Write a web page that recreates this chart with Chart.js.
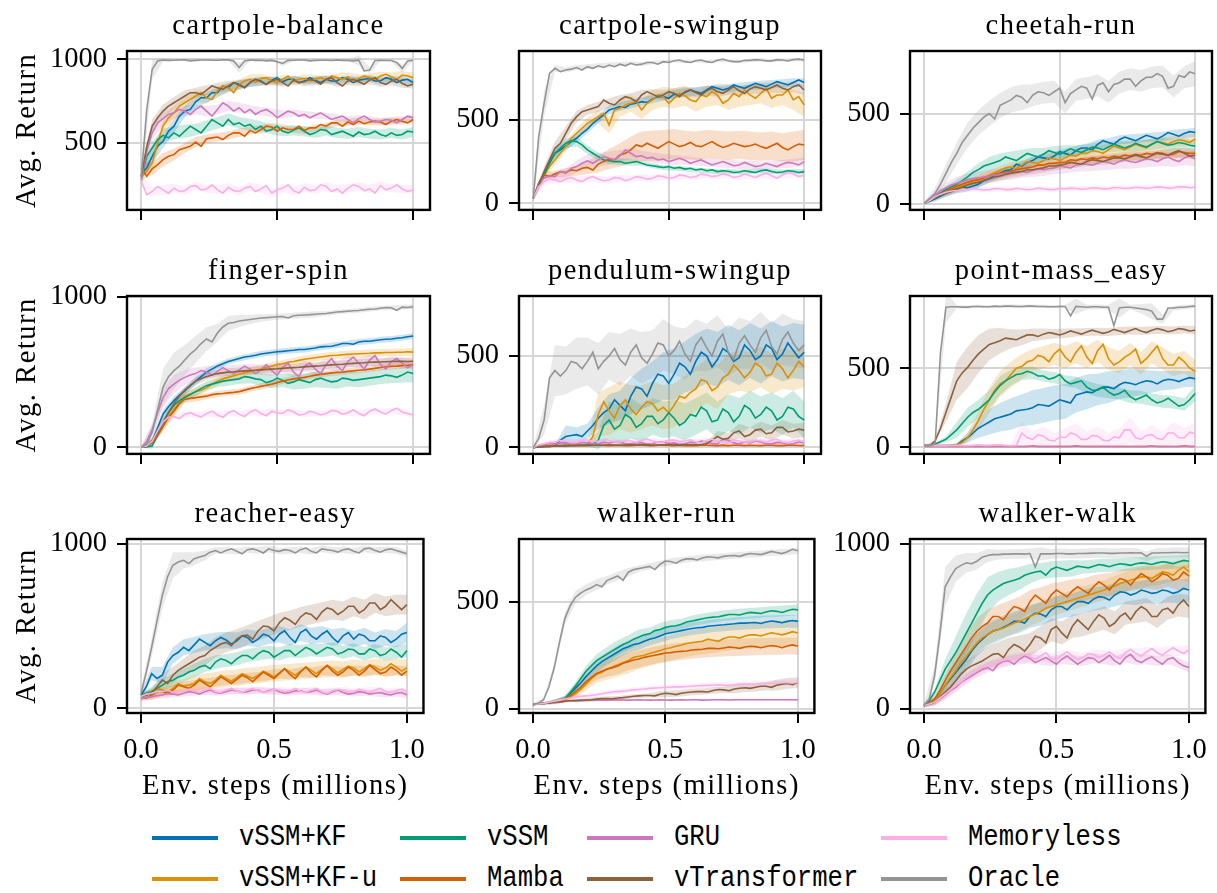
<!DOCTYPE html>
<html>
<head>
<meta charset="utf-8">
<script src="https://cdn.jsdelivr.net/npm/chart.js@4.4.1/dist/chart.umd.min.js"></script>
<style>
  html, body { margin: 0; padding: 0; background: #fff; }
  #fig { position: relative; width: 1217px; height: 893px; overflow: hidden; }
  #fig canvas { position: absolute; }
  .key { position: absolute; height: 4px; }
  .lbl { position: absolute; font-family: 'Liberation Mono', monospace; font-size: 25.6px; line-height: 26px; color: #000;
         white-space: nowrap; transform: scaleY(1.15); transform-origin: left center; }
</style>
</head>
<body>
<div id="fig"></div>
<script>
// env steps (millions): mean curves on the fine grid, shaded spread on the coarse one
const stepsFine = [0, 0.02, 0.04, 0.06, 0.08, 0.1, 0.12, 0.14, 0.16, 0.18, 0.2, 0.22, 0.24, 0.26, 0.28, 0.3, 0.32, 0.34, 0.36, 0.38, 0.4, 0.42, 0.44, 0.46, 0.48, 0.5, 0.52, 0.54, 0.56, 0.58, 0.6, 0.62, 0.64, 0.66, 0.68, 0.7, 0.72, 0.74, 0.76, 0.78, 0.8, 0.82, 0.84, 0.86, 0.88, 0.9, 0.92, 0.94, 0.96, 0.98, 1.0];
const steps = [0, 0.04, 0.08, 0.12, 0.16, 0.2, 0.24, 0.28, 0.32, 0.36, 0.4, 0.44, 0.48, 0.52, 0.56, 0.6, 0.64, 0.68, 0.72, 0.76, 0.8, 0.84, 0.88, 0.92, 0.96, 1.0];

const methods = ['vSSM+KF', 'vSSM+KF-u', 'vSSM', 'Mamba', 'GRU', 'vTransformer', 'Memoryless', 'Oracle'];
const colors = ['#0173b2', '#de8f05', '#029e73', '#d55e00', '#cc78bc', '#8c613c', '#fbafe4', '#949494'];

// cartpole-balance
const balance_kf = [320, 350, 420, 480, 510, 570, 600, 660, 690, 700, 745, 770, 770, 800, 800, 840, 830, 860, 850, 830, 860, 880, 870, 850, 875, 890, 865, 880, 880, 860, 870, 890, 875, 860, 880, 870, 870, 890, 880, 860, 875, 880, 885, 870, 870, 890, 880, 860, 875, 880, 860];
const balance_kfu = [300, 330, 380, 500, 600, 650, 680, 720, 740, 760, 780, 800, 770, 760, 810, 840, 830, 800, 850, 870, 880, 860, 885, 890, 870, 860, 880, 900, 870, 880, 885, 870, 880, 890, 875, 900, 890, 880, 895, 870, 885, 900, 890, 880, 900, 910, 895, 880, 905, 900, 890];
const balance_vssm = [300, 420, 470, 520, 545, 530, 560, 540, 570, 600, 580, 560, 600, 640, 620, 600, 640, 610, 620, 600, 610, 580, 600, 570, 580, 600, 570, 560, 575, 590, 570, 550, 560, 580, 575, 550, 560, 570, 555, 540, 565, 550, 555, 570, 550, 540, 560, 545, 550, 570, 565];
const balance_mamba = [350, 300, 345, 370, 400, 420, 430, 460, 470, 480, 505, 480, 525, 530, 535, 520, 545, 560, 560, 540, 575, 560, 580, 600, 595, 570, 590, 580, 580, 600, 575, 590, 590, 610, 600, 620, 620, 600, 625, 610, 630, 615, 625, 630, 625, 610, 630, 640, 630, 620, 640];
const balance_gru = [280, 450, 560, 620, 645, 670, 680, 700, 690, 670, 700, 720, 690, 660, 700, 740, 720, 690, 710, 680, 700, 670, 690, 700, 680, 650, 670, 690, 680, 660, 670, 650, 665, 680, 660, 640, 650, 660, 640, 620, 645, 660, 640, 625, 630, 640, 635, 620, 640, 660, 650];
const balance_vtrans = [300, 480, 600, 650, 690, 720, 740, 760, 780, 800, 800, 790, 815, 840, 830, 820, 840, 860, 845, 830, 860, 880, 865, 850, 870, 880, 860, 840, 875, 860, 865, 880, 870, 850, 880, 890, 860, 840, 870, 880, 865, 850, 875, 890, 860, 850, 870, 880, 855, 840, 850];
const balance_mem = [270, 190, 210, 240, 220, 200, 230, 210, 215, 240, 245, 220, 225, 250, 220, 200, 235, 215, 210, 230, 240, 210, 225, 245, 200, 220, 230, 250, 215, 200, 235, 215, 220, 250, 240, 210, 225, 200, 230, 250, 240, 215, 225, 200, 245, 220, 230, 250, 225, 210, 220];
const balance_oracle = [300, 700, 940, 990, 995, 993, 994, 995, 996, 990, 993, 995, 995, 994, 994, 996, 996, 990, 950, 990, 995, 993, 994, 990, 993, 985, 975, 993, 994, 995, 995, 990, 993, 994, 994, 992, 995, 993, 993, 990, 994, 930, 935, 992, 994, 992, 992, 980, 945, 990, 994];
const balance_kf_sd = [40, 40, 40, 40, 35, 35, 30, 30, 25, 25, 25, 25, 20, 20, 20, 20, 20, 20, 20, 20, 20, 20, 20, 20, 20, 20];
const balance_kfu_sd = [40, 40, 50, 40, 40, 35, 35, 30, 30, 30, 30, 25, 25, 25, 25, 25, 25, 25, 25, 25, 25, 25, 25, 25, 25, 30];
const balance_vssm_sd = [40, 40, 40, 40, 40, 35, 35, 35, 35, 35, 35, 30, 30, 30, 30, 30, 30, 30, 30, 30, 30, 30, 30, 30, 30, 30];
const balance_mamba_sd = [40, 40, 40, 35, 30, 30, 25, 25, 25, 25, 25, 25, 25, 20, 20, 20, 20, 20, 20, 20, 20, 20, 20, 20, 20, 20];
const balance_gru_sd = [40, 40, 40, 35, 30, 30, 30, 30, 30, 30, 25, 25, 25, 25, 20, 20, 20, 20, 20, 20, 20, 20, 20, 20, 20, 20];
const balance_vtrans_sd = [40, 40, 40, 35, 35, 30, 30, 30, 30, 30, 25, 25, 25, 25, 25, 25, 25, 25, 25, 25, 25, 25, 25, 25, 25, 25];
const balance_mem_sd = [30, 30, 30, 25, 25, 25, 25, 25, 25, 25, 25, 25, 25, 25, 25, 25, 25, 25, 25, 25, 25, 25, 25, 25, 25, 25];
const balance_oracle_sd = [40, 60, 10, 5, 5, 5, 5, 5, 5, 30, 5, 5, 5, 15, 5, 5, 5, 5, 5, 5, 30, 20, 5, 5, 25, 5];

// cartpole-swingup
const swingup_kf = [30, 120, 180, 250, 300, 320, 345, 370, 390, 420, 445, 480, 505, 530, 560, 570, 580, 575, 595, 600, 610, 605, 625, 640, 640, 630, 655, 650, 665, 680, 670, 660, 680, 700, 690, 680, 690, 710, 700, 690, 705, 720, 710, 700, 715, 730, 720, 710, 725, 740, 725];
const swingup_kfu = [30, 110, 170, 220, 260, 300, 340, 390, 420, 450, 480, 500, 520, 540, 470, 560, 570, 590, 600, 610, 560, 600, 620, 650, 640, 600, 630, 660, 645, 620, 610, 650, 640, 670, 650, 600, 620, 660, 640, 680, 650, 630, 660, 690, 630, 650, 650, 680, 620, 640, 590];
const swingup_vssm = [30, 110, 170, 240, 300, 330, 360, 375, 370, 350, 320, 300, 280, 260, 255, 250, 250, 240, 245, 250, 240, 230, 225, 220, 215, 220, 210, 215, 205, 210, 200, 205, 195, 200, 190, 195, 192, 185, 188, 195, 190, 185, 195, 200, 190, 185, 188, 195, 192, 185, 190];
const swingup_mamba = [30, 120, 170, 160, 175, 190, 185, 200, 195, 210, 215, 200, 235, 250, 265, 260, 290, 300, 320, 350, 340, 360, 345, 330, 350, 370, 355, 340, 350, 365, 345, 340, 355, 370, 350, 335, 345, 360, 350, 340, 345, 355, 340, 330, 345, 360, 335, 320, 340, 355, 350];
const swingup_gru = [30, 120, 150, 165, 160, 190, 180, 210, 220, 240, 255, 240, 260, 280, 270, 260, 285, 320, 300, 280, 285, 270, 275, 260, 265, 250, 260, 270, 258, 240, 250, 260, 245, 230, 240, 250, 238, 225, 230, 245, 232, 220, 225, 240, 230, 220, 235, 245, 240, 230, 250];
const swingup_vtrans = [30, 110, 190, 260, 330, 360, 420, 480, 520, 550, 560, 570, 580, 620, 600, 590, 620, 640, 630, 610, 650, 670, 655, 640, 650, 670, 660, 640, 670, 680, 665, 650, 675, 690, 670, 660, 680, 700, 675, 660, 685, 700, 690, 680, 695, 710, 690, 680, 700, 710, 680];
const swingup_mem = [30, 100, 130, 150, 140, 130, 145, 155, 140, 130, 150, 160, 145, 135, 140, 155, 150, 135, 145, 160, 155, 145, 150, 165, 160, 150, 155, 170, 165, 155, 160, 175, 170, 160, 165, 175, 170, 155, 160, 175, 165, 155, 170, 180, 165, 150, 170, 185, 175, 160, 170];
const swingup_oracle = [30, 400, 600, 780, 810, 790, 800, 805, 815, 800, 820, 810, 825, 815, 830, 820, 835, 825, 840, 830, 835, 845, 845, 835, 850, 845, 855, 860, 850, 845, 855, 860, 850, 845, 858, 865, 855, 850, 850, 858, 858, 862, 860, 855, 855, 862, 860, 855, 862, 865, 860];
const swingup_kf_sd = [10, 20, 25, 25, 25, 25, 25, 25, 25, 25, 25, 25, 25, 25, 25, 25, 25, 25, 25, 25, 25, 25, 25, 25, 25, 25];
const swingup_kfu_sd = [10, 20, 30, 30, 30, 35, 40, 50, 50, 50, 55, 60, 60, 60, 60, 60, 60, 60, 60, 60, 60, 60, 60, 60, 60, 70];
const swingup_vssm_sd = [10, 20, 30, 30, 30, 25, 25, 20, 20, 20, 15, 15, 15, 15, 15, 15, 15, 15, 15, 15, 15, 15, 15, 15, 15, 15];
const swingup_mamba_sd = [10, 20, 20, 25, 30, 40, 50, 60, 70, 80, 90, 90, 90, 90, 85, 85, 85, 85, 85, 85, 85, 85, 85, 85, 90, 90];
const swingup_gru_sd = [10, 20, 25, 30, 35, 40, 40, 40, 35, 35, 30, 30, 30, 30, 25, 25, 25, 25, 25, 25, 25, 25, 25, 25, 25, 25];
const swingup_vtrans_sd = [10, 30, 40, 40, 35, 30, 30, 30, 30, 30, 30, 30, 30, 30, 30, 30, 30, 30, 30, 30, 30, 30, 30, 30, 30, 30];
const swingup_mem_sd = [10, 20, 20, 20, 20, 20, 20, 20, 20, 20, 20, 20, 20, 20, 20, 20, 20, 20, 20, 20, 20, 20, 20, 20, 20, 20];
const swingup_oracle_sd = [10, 80, 20, 15, 15, 15, 15, 15, 12, 12, 12, 10, 10, 10, 10, 10, 10, 10, 10, 10, 10, 10, 10, 10, 10, 10];

// cheetah-run
const cheetah_kf = [5, 15, 30, 45, 60, 70, 80, 95, 90, 100, 110, 130, 140, 160, 170, 185, 190, 220, 210, 230, 240, 260, 255, 250, 265, 290, 280, 270, 295, 310, 310, 300, 330, 350, 340, 330, 355, 370, 360, 350, 365, 380, 370, 360, 375, 395, 385, 375, 390, 400, 395];
const cheetah_kfu = [5, 20, 40, 55, 70, 85, 90, 100, 110, 125, 130, 145, 160, 175, 185, 200, 205, 195, 215, 235, 230, 225, 240, 255, 250, 240, 255, 270, 265, 280, 280, 295, 290, 280, 300, 320, 310, 300, 315, 330, 320, 310, 330, 345, 340, 330, 345, 355, 350, 340, 360];
const cheetah_vssm = [5, 20, 40, 60, 80, 95, 110, 130, 150, 175, 190, 210, 220, 230, 240, 260, 250, 240, 260, 280, 270, 260, 275, 295, 285, 275, 290, 305, 295, 285, 300, 315, 310, 300, 315, 330, 320, 310, 320, 335, 325, 315, 330, 345, 335, 325, 330, 340, 335, 325, 320];
const cheetah_mamba = [5, 20, 40, 55, 70, 85, 100, 110, 120, 130, 135, 145, 155, 165, 170, 175, 180, 190, 195, 200, 205, 215, 215, 225, 225, 230, 230, 245, 240, 250, 245, 255, 250, 260, 255, 265, 260, 270, 265, 275, 270, 280, 275, 285, 280, 270, 275, 290, 285, 280, 280];
const cheetah_gru = [5, 30, 50, 75, 90, 105, 115, 125, 135, 140, 145, 150, 155, 160, 165, 170, 170, 180, 180, 175, 185, 195, 190, 195, 200, 210, 205, 200, 215, 220, 220, 215, 225, 235, 230, 220, 235, 245, 235, 230, 240, 250, 245, 235, 250, 260, 245, 235, 255, 265, 250];
const cheetah_vtrans = [5, 20, 35, 50, 60, 75, 85, 95, 105, 115, 120, 130, 140, 150, 155, 165, 170, 175, 180, 190, 190, 195, 200, 210, 210, 215, 220, 230, 225, 220, 235, 245, 240, 235, 245, 255, 255, 250, 260, 270, 262, 255, 268, 280, 275, 270, 285, 295, 280, 265, 270];
const cheetah_mem = [5, 20, 40, 55, 65, 72, 75, 78, 80, 85, 82, 78, 80, 86, 85, 80, 80, 87, 83, 79, 82, 88, 85, 80, 80, 86, 84, 88, 86, 82, 85, 90, 88, 84, 85, 91, 90, 86, 88, 93, 92, 87, 90, 95, 93, 88, 90, 96, 95, 90, 93];
const cheetah_oracle = [5, 30, 60, 110, 170, 230, 280, 340, 380, 420, 450, 480, 500, 470, 545, 560, 575, 600, 590, 560, 600, 620, 615, 600, 620, 640, 560, 610, 630, 650, 640, 580, 655, 670, 620, 660, 670, 690, 690, 650, 680, 700, 700, 720, 705, 640, 650, 710, 700, 730, 720];
const cheetah_kf_sd = [5, 15, 20, 20, 20, 20, 20, 25, 25, 25, 25, 25, 25, 25, 25, 25, 25, 25, 25, 25, 25, 25, 25, 25, 25, 25];
const cheetah_kfu_sd = [5, 15, 20, 20, 25, 25, 25, 25, 25, 25, 25, 30, 30, 30, 30, 30, 30, 30, 30, 30, 30, 30, 30, 30, 30, 30];
const cheetah_vssm_sd = [5, 15, 20, 25, 30, 35, 40, 40, 40, 40, 40, 35, 35, 35, 30, 30, 30, 30, 30, 30, 30, 30, 30, 30, 30, 30];
const cheetah_mamba_sd = [5, 15, 20, 20, 20, 20, 25, 25, 25, 25, 25, 25, 25, 25, 25, 25, 25, 25, 25, 25, 25, 25, 25, 25, 25, 25];
const cheetah_gru_sd = [5, 20, 30, 35, 35, 35, 35, 35, 35, 35, 35, 35, 35, 35, 35, 40, 40, 40, 40, 40, 40, 40, 40, 40, 40, 40];
const cheetah_vtrans_sd = [5, 15, 20, 20, 25, 25, 25, 25, 25, 25, 25, 25, 25, 25, 25, 25, 25, 25, 25, 25, 25, 25, 25, 25, 25, 25];
const cheetah_mem_sd = [5, 10, 15, 15, 15, 15, 15, 15, 15, 15, 15, 15, 15, 15, 15, 15, 15, 15, 15, 15, 15, 15, 15, 15, 15, 15];
const cheetah_oracle_sd = [10, 30, 50, 60, 70, 70, 70, 70, 70, 70, 60, 60, 60, 60, 60, 60, 60, 60, 60, 60, 60, 60, 60, 60, 60, 70];

// finger-spin
const finger_kf = [0, 10, 40, 130, 220, 270, 310, 345, 375, 410, 440, 470, 500, 520, 540, 555, 570, 580, 590, 600, 605, 612, 620, 625, 630, 635, 638, 642, 645, 650, 650, 655, 660, 668, 670, 672, 680, 690, 690, 685, 700, 705, 705, 710, 715, 718, 720, 725, 728, 735, 740];
const finger_kfu = [0, 8, 30, 80, 140, 200, 250, 300, 340, 355, 370, 380, 395, 420, 440, 455, 465, 475, 485, 495, 505, 512, 520, 530, 540, 550, 555, 565, 570, 578, 585, 590, 595, 600, 605, 610, 612, 615, 618, 620, 622, 624, 625, 628, 628, 630, 630, 632, 632, 635, 633];
const finger_vssm = [0, 3, 10, 80, 160, 230, 280, 310, 330, 350, 370, 390, 410, 420, 430, 440, 445, 450, 455, 470, 465, 455, 450, 430, 440, 460, 445, 425, 435, 450, 440, 430, 450, 460, 445, 435, 440, 460, 455, 445, 450, 455, 460, 465, 470, 480, 475, 465, 480, 500, 490];
const finger_mamba = [0, 8, 30, 80, 140, 200, 240, 290, 320, 325, 330, 335, 340, 350, 355, 358, 362, 365, 370, 380, 390, 398, 405, 412, 420, 430, 440, 448, 455, 460, 465, 472, 480, 485, 490, 495, 498, 500, 505, 508, 512, 515, 520, 525, 530, 535, 538, 540, 543, 545, 548];
const finger_gru = [0, 40, 120, 230, 330, 390, 420, 445, 465, 480, 490, 510, 500, 480, 505, 530, 510, 490, 515, 540, 520, 490, 515, 550, 510, 480, 530, 560, 500, 470, 540, 560, 520, 490, 550, 590, 540, 510, 570, 600, 560, 520, 580, 610, 550, 520, 570, 590, 560, 530, 550];
const finger_vtrans = [0, 10, 40, 100, 170, 230, 290, 340, 380, 410, 440, 455, 470, 480, 490, 495, 500, 502, 505, 508, 510, 512, 515, 518, 520, 522, 525, 528, 530, 532, 535, 538, 540, 542, 545, 548, 550, 552, 555, 558, 560, 562, 565, 566, 567, 569, 570, 571, 572, 570, 572];
const finger_mem = [0, 10, 40, 110, 170, 200, 205, 190, 220, 230, 215, 200, 225, 240, 215, 200, 230, 245, 220, 205, 235, 250, 225, 210, 240, 230, 225, 250, 235, 215, 220, 240, 230, 215, 225, 245, 240, 220, 230, 250, 225, 210, 240, 255, 235, 220, 245, 260, 235, 225, 215];
const finger_oracle = [0, 20, 100, 250, 400, 470, 510, 540, 580, 620, 650, 690, 720, 700, 760, 800, 825, 830, 840, 845, 850, 855, 860, 862, 865, 868, 870, 860, 875, 878, 880, 882, 885, 888, 890, 895, 900, 902, 905, 908, 910, 915, 918, 920, 925, 930, 928, 910, 932, 930, 935];
const finger_kf_sd = [5, 20, 30, 30, 25, 25, 25, 20, 20, 20, 20, 20, 20, 20, 20, 20, 20, 20, 20, 20, 20, 20, 20, 20, 20, 20];
const finger_kfu_sd = [5, 20, 30, 30, 25, 25, 25, 25, 25, 25, 25, 25, 25, 25, 25, 25, 25, 25, 25, 25, 25, 25, 25, 25, 25, 25];
const finger_vssm_sd = [5, 20, 30, 30, 30, 30, 30, 30, 35, 35, 40, 40, 45, 45, 50, 50, 50, 50, 50, 50, 50, 50, 50, 50, 50, 60];
const finger_mamba_sd = [5, 20, 30, 30, 25, 25, 20, 20, 20, 20, 20, 20, 20, 20, 20, 20, 20, 20, 20, 20, 20, 20, 20, 20, 20, 20];
const finger_gru_sd = [5, 30, 60, 60, 50, 40, 40, 35, 35, 35, 35, 35, 35, 35, 35, 35, 35, 35, 35, 35, 35, 35, 35, 35, 35, 35];
const finger_vtrans_sd = [5, 20, 30, 30, 25, 25, 25, 25, 25, 25, 25, 25, 25, 25, 25, 25, 25, 25, 25, 25, 25, 25, 25, 25, 25, 25];
const finger_mem_sd = [5, 20, 20, 20, 20, 20, 20, 20, 20, 20, 20, 20, 20, 20, 20, 20, 20, 20, 20, 20, 20, 20, 20, 20, 20, 20];
const finger_oracle_sd = [5, 60, 120, 120, 100, 90, 80, 60, 50, 40, 30, 25, 20, 20, 20, 20, 20, 15, 15, 15, 15, 15, 15, 15, 15, 15];

// pendulum-swingup
const pendulum_kf = [0, 3, 5, 8, 10, 40, 60, 65, 70, 60, 90, 120, 160, 190, 210, 260, 230, 200, 280, 330, 320, 280, 350, 400, 390, 350, 400, 460, 440, 400, 470, 520, 500, 440, 480, 540, 520, 470, 490, 560, 530, 480, 500, 560, 540, 480, 510, 570, 530, 490, 520];
const pendulum_kfu = [0, 3, 5, 6, 8, 9, 10, 11, 12, 14, 15, 60, 180, 250, 200, 160, 230, 260, 210, 180, 220, 250, 240, 200, 220, 190, 230, 280, 270, 300, 320, 370, 360, 310, 330, 380, 400, 450, 420, 380, 410, 460, 440, 390, 400, 460, 430, 380, 420, 470, 440];
const pendulum_vssm = [0, 3, 5, 6, 8, 9, 10, 11, 12, 14, 15, 20, 40, 120, 150, 100, 120, 180, 160, 110, 130, 170, 170, 130, 150, 190, 160, 120, 140, 180, 170, 220, 200, 140, 150, 210, 190, 140, 170, 230, 210, 160, 180, 220, 200, 150, 170, 220, 210, 170, 150];
const pendulum_mamba = [0, 5, 8, 9, 10, 10, 10, 11, 12, 11, 10, 12, 12, 11, 10, 11, 12, 10, 10, 12, 12, 11, 10, 12, 12, 11, 10, 12, 10, 11, 10, 12, 12, 11, 10, 13, 10, 12, 12, 10, 12, 11, 10, 12, 12, 10, 10, 13, 12, 11, 10];
const pendulum_gru = [0, 10, 15, 20, 20, 25, 25, 18, 20, 28, 25, 20, 20, 28, 25, 30, 30, 20, 20, 25, 25, 18, 20, 30, 30, 22, 25, 18, 20, 30, 25, 35, 30, 20, 20, 45, 40, 25, 20, 30, 25, 35, 30, 20, 20, 28, 25, 18, 20, 30, 25];
const pendulum_vtrans = [0, 3, 5, 6, 8, 9, 10, 10, 10, 11, 12, 12, 12, 13, 15, 14, 12, 14, 15, 13, 15, 16, 12, 14, 15, 16, 14, 13, 15, 16, 15, 16, 20, 40, 60, 45, 50, 80, 90, 60, 70, 95, 100, 75, 80, 110, 110, 85, 90, 100, 95];
const pendulum_mem = [0, 15, 20, 28, 30, 38, 35, 28, 30, 40, 40, 32, 35, 42, 40, 30, 30, 38, 35, 28, 40, 45, 35, 28, 30, 40, 40, 32, 35, 42, 30, 25, 40, 45, 35, 28, 25, 38, 35, 30, 30, 40, 35, 28, 40, 45, 30, 25, 35, 40, 30];
const pendulum_oracle = [0, 50, 150, 380, 420, 390, 420, 470, 460, 430, 470, 520, 430, 470, 500, 540, 480, 450, 520, 560, 490, 460, 510, 570, 560, 500, 530, 580, 510, 470, 560, 600, 545, 500, 580, 620, 520, 480, 570, 610, 560, 520, 600, 640, 550, 510, 590, 630, 570, 530, 560];
const pendulum_kf_sd = [5, 5, 5, 60, 40, 40, 60, 80, 80, 100, 110, 120, 130, 140, 140, 150, 150, 150, 150, 150, 150, 150, 150, 150, 150, 150];
const pendulum_kfu_sd = [5, 5, 5, 5, 5, 10, 120, 130, 130, 130, 120, 120, 120, 120, 120, 120, 120, 120, 110, 110, 110, 110, 110, 110, 110, 110];
const pendulum_vssm_sd = [5, 5, 5, 5, 5, 10, 50, 100, 110, 110, 100, 100, 100, 100, 100, 100, 100, 100, 100, 100, 100, 100, 100, 100, 100, 100];
const pendulum_mamba_sd = [3, 5, 5, 5, 5, 5, 5, 5, 5, 5, 5, 5, 5, 5, 5, 5, 5, 5, 5, 5, 5, 5, 5, 5, 5, 5];
const pendulum_gru_sd = [5, 10, 10, 10, 10, 10, 10, 10, 10, 10, 10, 10, 10, 10, 10, 10, 10, 15, 20, 15, 15, 15, 15, 15, 15, 15];
const pendulum_vtrans_sd = [3, 5, 5, 5, 5, 5, 5, 5, 5, 5, 5, 5, 5, 5, 5, 5, 10, 30, 30, 40, 40, 40, 40, 40, 40, 40];
const pendulum_mem_sd = [5, 10, 15, 15, 15, 15, 15, 15, 15, 15, 15, 15, 15, 15, 15, 15, 15, 15, 15, 15, 15, 15, 15, 15, 15, 15];
const pendulum_oracle_sd = [5, 80, 140, 130, 140, 130, 140, 130, 140, 130, 140, 130, 140, 130, 140, 140, 130, 140, 130, 140, 130, 140, 130, 140, 130, 130];

// point-mass easy
const pointmass_kf = [10, 10, 10, 10, 10, 12, 15, 40, 60, 90, 120, 140, 160, 180, 190, 200, 210, 230, 235, 240, 250, 270, 265, 260, 280, 300, 290, 280, 330, 340, 350, 345, 365, 380, 380, 370, 395, 410, 405, 395, 410, 420, 415, 400, 420, 430, 425, 415, 430, 440, 433];
const pointmass_kfu = [10, 10, 10, 10, 10, 12, 15, 30, 60, 110, 170, 240, 300, 360, 400, 420, 460, 500, 510, 540, 550, 580, 570, 540, 590, 620, 570, 540, 600, 640, 570, 530, 610, 650, 560, 520, 540, 570, 590, 620, 530, 560, 600, 640, 560, 520, 520, 570, 540, 500, 480];
const pointmass_vssm = [10, 12, 20, 35, 50, 80, 110, 150, 190, 220, 240, 270, 300, 350, 390, 420, 440, 460, 465, 480, 470, 450, 450, 430, 440, 460, 420, 400, 410, 420, 380, 360, 360, 380, 350, 330, 340, 360, 320, 300, 315, 330, 300, 280, 290, 310, 285, 260, 270, 300, 340];
const pointmass_mamba = [5, 5, 5, 5, 5, 5, 5, 5, 5, 5, 5, 5, 5, 5, 5, 5, 5, 5, 5, 5, 8, 5, 5, 5, 5, 5, 5, 5, 8, 5, 5, 5, 5, 5, 5, 5, 5, 5, 5, 5, 5, 5, 8, 5, 5, 5, 5, 5, 8, 5, 5];
const pointmass_gru = [5, 5, 5, 5, 5, 5, 5, 5, 5, 5, 5, 5, 5, 5, 5, 5, 5, 5, 5, 5, 5, 5, 5, 5, 5, 5, 5, 5, 5, 5, 5, 5, 5, 5, 5, 5, 5, 5, 5, 5, 5, 5, 5, 5, 5, 5, 5, 5, 5, 5, 5];
const pointmass_vtrans = [10, 10, 40, 120, 220, 320, 420, 470, 505, 550, 590, 620, 650, 660, 673, 690, 685, 680, 695, 710, 710, 700, 715, 725, 718, 710, 720, 735, 725, 715, 728, 740, 730, 720, 728, 745, 735, 725, 738, 750, 735, 725, 740, 750, 742, 730, 738, 750, 745, 735, 740];
const pointmass_mem = [10, 10, 10, 10, 10, 12, 12, 10, 10, 12, 15, 12, 12, 15, 15, 12, 10, 12, 90, 60, 50, 80, 70, 45, 40, 65, 60, 90, 80, 50, 50, 75, 70, 45, 40, 65, 60, 110, 110, 60, 50, 75, 80, 55, 50, 90, 90, 60, 60, 95, 85];
const pointmass_oracle = [10, 10, 20, 600, 885, 888, 888, 886, 886, 890, 890, 888, 888, 892, 890, 892, 892, 890, 890, 892, 892, 890, 890, 888, 888, 890, 890, 830, 890, 888, 885, 888, 888, 885, 885, 770, 880, 885, 885, 880, 875, 870, 860, 810, 810, 880, 880, 885, 885, 890, 892];
const pointmass_kf_sd = [5, 5, 5, 10, 30, 60, 80, 90, 100, 100, 110, 110, 110, 110, 110, 110, 100, 100, 90, 90, 80, 70, 60, 60, 50, 50];
const pointmass_kfu_sd = [5, 5, 5, 10, 30, 60, 80, 80, 80, 80, 70, 70, 70, 70, 70, 70, 70, 70, 70, 70, 70, 70, 70, 70, 70, 70];
const pointmass_vssm_sd = [5, 5, 20, 50, 60, 60, 60, 60, 50, 40, 40, 35, 35, 35, 35, 40, 40, 40, 40, 40, 40, 40, 40, 40, 40, 50];
const pointmass_mamba_sd = [3, 3, 3, 3, 3, 3, 3, 3, 3, 3, 3, 3, 3, 3, 3, 3, 3, 3, 3, 3, 3, 3, 3, 3, 3, 3];
const pointmass_gru_sd = [3, 3, 3, 3, 3, 3, 3, 3, 3, 3, 3, 3, 3, 3, 3, 3, 3, 3, 3, 3, 3, 3, 3, 3, 3, 3];
const pointmass_vtrans_sd = [5, 5, 60, 120, 130, 120, 100, 80, 60, 50, 40, 35, 30, 30, 25, 25, 25, 25, 25, 25, 25, 25, 25, 25, 25, 25];
const pointmass_mem_sd = [5, 5, 5, 5, 5, 5, 5, 5, 5, 70, 50, 60, 50, 60, 70, 50, 60, 50, 60, 80, 50, 60, 50, 70, 60, 70];
const pointmass_oracle_sd = [5, 5, 100, 10, 10, 10, 10, 10, 10, 10, 10, 10, 10, 10, 50, 15, 15, 15, 60, 15, 30, 50, 30, 15, 15, 10];

// reacher-easy
const reacher_kf = [80, 130, 210, 180, 200, 280, 320, 340, 370, 350, 385, 420, 400, 380, 410, 430, 415, 390, 410, 440, 430, 400, 420, 450, 440, 410, 450, 470, 430, 400, 460, 480, 440, 420, 450, 470, 430, 400, 440, 460, 420, 450, 440, 410, 410, 440, 430, 400, 420, 450, 460];
const reacher_kfu = [70, 80, 90, 120, 110, 100, 120, 150, 135, 140, 150, 180, 160, 150, 170, 200, 180, 165, 185, 210, 195, 180, 200, 225, 210, 190, 215, 240, 220, 200, 225, 250, 230, 210, 235, 260, 240, 215, 235, 255, 245, 220, 240, 265, 250, 230, 245, 270, 250, 225, 245];
const reacher_vssm = [80, 90, 100, 120, 140, 160, 170, 190, 200, 220, 230, 250, 260, 240, 280, 300, 290, 270, 300, 320, 320, 300, 330, 350, 340, 310, 330, 350, 350, 320, 345, 370, 355, 330, 350, 370, 360, 330, 340, 360, 355, 330, 330, 360, 350, 320, 330, 360, 340, 310, 350];
const reacher_mamba = [70, 60, 80, 100, 100, 90, 110, 140, 130, 120, 140, 170, 150, 130, 160, 190, 170, 150, 175, 200, 185, 160, 190, 220, 200, 180, 210, 240, 205, 180, 220, 250, 215, 190, 230, 260, 225, 200, 220, 250, 230, 200, 225, 260, 235, 210, 220, 250, 230, 200, 225];
const reacher_gru = [60, 65, 70, 75, 80, 90, 85, 80, 90, 100, 95, 85, 100, 110, 95, 90, 100, 110, 105, 95, 100, 110, 110, 95, 105, 115, 100, 90, 95, 105, 105, 95, 100, 110, 95, 85, 100, 110, 95, 85, 90, 100, 95, 85, 90, 95, 85, 80, 90, 95, 80];
const reacher_vtrans = [70, 80, 90, 130, 170, 150, 200, 230, 250, 270, 290, 310, 320, 350, 370, 390, 400, 380, 420, 440, 445, 420, 470, 500, 495, 470, 520, 550, 535, 510, 555, 580, 570, 540, 585, 610, 600, 570, 590, 620, 620, 580, 600, 640, 640, 600, 620, 660, 630, 600, 630];
const reacher_mem = [70, 85, 90, 100, 100, 110, 95, 100, 100, 115, 105, 95, 110, 120, 100, 95, 110, 120, 105, 95, 110, 120, 105, 95, 100, 115, 110, 100, 105, 120, 100, 95, 110, 120, 100, 90, 105, 115, 110, 100, 100, 115, 105, 95, 110, 120, 100, 95, 105, 115, 100];
const reacher_oracle = [90, 220, 370, 530, 685, 800, 870, 890, 900, 880, 910, 920, 930, 950, 960, 945, 960, 970, 955, 940, 965, 970, 960, 945, 970, 960, 955, 965, 960, 945, 965, 975, 955, 945, 970, 965, 960, 950, 965, 970, 955, 945, 970, 975, 960, 950, 965, 970, 960, 950, 940];
const reacher_kf_sd = [20, 40, 50, 50, 50, 50, 50, 50, 50, 50, 50, 50, 50, 50, 50, 50, 50, 50, 50, 50, 50, 50, 50, 50, 50, 60];
const reacher_kfu_sd = [20, 30, 30, 40, 40, 50, 50, 50, 50, 50, 50, 50, 50, 50, 50, 50, 50, 50, 50, 50, 50, 50, 50, 50, 50, 50];
const reacher_vssm_sd = [20, 30, 40, 40, 40, 40, 40, 40, 40, 40, 40, 40, 40, 40, 40, 40, 40, 40, 40, 40, 40, 40, 40, 40, 40, 40];
const reacher_mamba_sd = [20, 30, 30, 30, 30, 30, 30, 30, 30, 30, 30, 30, 30, 30, 30, 30, 30, 30, 30, 30, 30, 30, 30, 30, 30, 30];
const reacher_gru_sd = [20, 20, 20, 20, 20, 20, 20, 20, 20, 20, 20, 20, 20, 20, 20, 20, 20, 20, 20, 20, 20, 20, 20, 20, 20, 20];
const reacher_vtrans_sd = [20, 30, 40, 50, 50, 60, 60, 60, 60, 60, 60, 60, 60, 60, 60, 60, 60, 60, 60, 60, 60, 60, 60, 60, 60, 60];
const reacher_mem_sd = [20, 20, 20, 20, 20, 20, 20, 20, 20, 20, 20, 20, 20, 20, 20, 20, 20, 20, 20, 20, 20, 20, 20, 20, 20, 20];
const reacher_oracle_sd = [20, 60, 80, 80, 50, 40, 30, 20, 20, 20, 20, 20, 20, 20, 20, 20, 20, 20, 20, 20, 20, 20, 20, 20, 20, 20];

// walker-run
const walkerRun_kf = [20, 22, 25, 28, 32, 38, 45, 70, 95, 120, 150, 175, 200, 220, 235, 250, 265, 280, 290, 300, 305, 315, 325, 330, 340, 350, 355, 360, 365, 370, 375, 378, 380, 385, 388, 390, 392, 395, 397, 400, 400, 402, 403, 398, 405, 410, 407, 402, 408, 412, 408];
const walkerRun_kfu = [20, 22, 25, 28, 30, 35, 40, 55, 70, 90, 115, 140, 160, 170, 185, 195, 205, 215, 225, 240, 245, 250, 258, 265, 272, 280, 285, 292, 298, 305, 308, 312, 315, 325, 320, 315, 328, 335, 335, 330, 340, 345, 345, 340, 348, 355, 350, 345, 352, 360, 354];
const walkerRun_vssm = [20, 22, 25, 28, 32, 38, 45, 75, 105, 140, 175, 200, 225, 240, 255, 270, 285, 300, 310, 325, 335, 345, 350, 365, 370, 380, 385, 388, 395, 405, 410, 415, 420, 425, 428, 430, 435, 440, 440, 438, 445, 450, 448, 445, 452, 458, 455, 450, 458, 465, 462];
const walkerRun_mamba = [20, 22, 25, 28, 32, 38, 45, 60, 80, 100, 125, 145, 165, 175, 185, 192, 200, 212, 220, 228, 232, 240, 245, 250, 255, 260, 262, 266, 268, 270, 274, 276, 278, 282, 282, 280, 284, 288, 286, 282, 288, 292, 290, 285, 291, 295, 292, 285, 293, 298, 292];
const walkerRun_gru = [20, 22, 25, 28, 30, 32, 35, 37, 38, 39, 40, 40, 40, 40, 40, 41, 42, 41, 40, 41, 42, 41, 40, 41, 42, 41, 40, 41, 42, 41, 42, 42, 40, 41, 42, 42, 42, 41, 42, 42, 42, 42, 42, 42, 42, 42, 42, 42, 42, 42, 42];
const walkerRun_vtrans = [20, 22, 25, 27, 30, 32, 35, 37, 38, 39, 40, 42, 45, 47, 48, 46, 50, 52, 55, 58, 60, 62, 62, 60, 68, 72, 70, 66, 72, 76, 78, 80, 80, 78, 85, 90, 88, 84, 92, 96, 98, 95, 100, 105, 105, 100, 110, 115, 118, 112, 122];
const walkerRun_mem = [20, 22, 25, 30, 35, 40, 45, 50, 55, 58, 60, 62, 65, 70, 75, 78, 80, 82, 85, 88, 90, 92, 95, 97, 98, 100, 100, 102, 102, 104, 105, 107, 108, 109, 110, 112, 110, 110, 112, 115, 115, 114, 115, 118, 118, 117, 120, 122, 122, 120, 123];
const walkerRun_oracle = [20, 25, 42, 100, 190, 310, 420, 480, 520, 540, 555, 565, 580, 570, 600, 610, 620, 600, 638, 650, 655, 660, 665, 650, 675, 690, 688, 680, 694, 700, 700, 695, 704, 710, 708, 705, 712, 715, 716, 712, 720, 725, 723, 720, 727, 735, 730, 725, 733, 745, 738];
const walkerRun_kf_sd = [5, 5, 10, 15, 20, 25, 30, 30, 30, 30, 30, 30, 30, 30, 30, 30, 30, 30, 30, 30, 30, 30, 30, 30, 30, 30];
const walkerRun_kfu_sd = [5, 5, 10, 15, 20, 30, 40, 50, 55, 60, 60, 60, 60, 60, 60, 60, 60, 60, 60, 60, 60, 60, 60, 60, 60, 60];
const walkerRun_vssm_sd = [5, 5, 10, 15, 20, 25, 30, 35, 35, 35, 35, 30, 30, 30, 25, 25, 25, 25, 25, 25, 25, 25, 25, 25, 25, 25];
const walkerRun_mamba_sd = [5, 5, 10, 15, 20, 25, 30, 35, 40, 40, 40, 40, 40, 40, 40, 40, 40, 40, 40, 40, 40, 40, 40, 40, 40, 40];
const walkerRun_gru_sd = [3, 5, 5, 5, 5, 5, 5, 5, 5, 5, 5, 5, 5, 5, 5, 5, 5, 5, 5, 5, 5, 5, 5, 5, 5, 5];
const walkerRun_vtrans_sd = [3, 5, 5, 5, 5, 10, 10, 10, 10, 10, 10, 10, 15, 15, 15, 15, 15, 15, 15, 20, 20, 20, 20, 25, 25, 25];
const walkerRun_mem_sd = [5, 5, 8, 10, 10, 10, 10, 12, 12, 12, 12, 12, 12, 12, 12, 12, 12, 12, 12, 12, 12, 12, 12, 12, 12, 12];
const walkerRun_oracle_sd = [5, 10, 20, 30, 30, 25, 25, 20, 20, 20, 15, 15, 15, 15, 15, 15, 15, 15, 15, 15, 15, 15, 15, 15, 15, 15];

// walker-walk
const walkerWalk_kf = [20, 30, 50, 90, 140, 180, 220, 260, 300, 350, 390, 420, 450, 470, 480, 495, 510, 530, 530, 520, 560, 580, 575, 560, 600, 620, 620, 600, 630, 650, 650, 640, 665, 680, 675, 660, 690, 710, 705, 690, 700, 720, 712, 700, 705, 720, 715, 700, 710, 730, 720];
const walkerWalk_kfu = [20, 30, 50, 90, 140, 190, 230, 280, 320, 360, 400, 430, 450, 470, 480, 490, 505, 520, 530, 545, 560, 575, 590, 610, 620, 630, 640, 650, 660, 670, 680, 690, 700, 710, 720, 735, 745, 760, 770, 780, 790, 800, 800, 790, 810, 830, 825, 810, 840, 860, 830];
const walkerWalk_vssm = [20, 50, 100, 170, 240, 290, 340, 400, 460, 520, 580, 640, 690, 720, 740, 760, 770, 780, 790, 810, 820, 830, 835, 810, 845, 860, 850, 840, 852, 865, 860, 855, 865, 875, 870, 862, 872, 880, 876, 870, 880, 885, 882, 875, 885, 892, 888, 880, 890, 900, 895];
const walkerWalk_mamba = [20, 35, 60, 110, 170, 230, 280, 330, 380, 430, 470, 500, 520, 560, 560, 540, 585, 620, 610, 590, 650, 690, 665, 640, 690, 720, 700, 680, 715, 740, 720, 700, 740, 770, 750, 720, 760, 790, 780, 750, 790, 820, 800, 770, 790, 820, 810, 780, 790, 830, 805];
const walkerWalk_gru = [20, 28, 40, 60, 85, 110, 130, 160, 180, 200, 220, 240, 250, 230, 270, 290, 290, 270, 300, 320, 305, 280, 295, 310, 290, 270, 300, 320, 295, 270, 290, 310, 305, 280, 300, 325, 290, 270, 310, 330, 295, 280, 300, 315, 290, 270, 300, 310, 280, 260, 250];
const walkerWalk_vtrans = [20, 28, 40, 70, 100, 130, 170, 210, 240, 260, 275, 290, 310, 330, 335, 310, 360, 390, 375, 350, 390, 440, 430, 400, 480, 500, 460, 430, 500, 540, 510, 480, 530, 570, 550, 500, 520, 560, 580, 540, 590, 620, 600, 560, 560, 600, 610, 580, 630, 660, 620];
const walkerWalk_mem = [20, 28, 40, 65, 90, 115, 140, 165, 190, 210, 230, 250, 260, 270, 280, 295, 300, 290, 310, 330, 315, 300, 320, 340, 305, 300, 325, 345, 320, 300, 310, 335, 330, 310, 325, 345, 320, 305, 340, 360, 335, 320, 345, 365, 340, 325, 350, 370, 350, 335, 358];
const walkerWalk_oracle = [20, 60, 200, 450, 740, 800, 850, 870, 885, 880, 895, 920, 930, 935, 935, 938, 938, 940, 940, 938, 942, 860, 940, 940, 940, 942, 942, 940, 940, 942, 942, 943, 944, 945, 945, 943, 943, 945, 945, 946, 945, 946, 925, 945, 945, 947, 947, 948, 948, 947, 948];
const walkerWalk_kf_sd = [10, 20, 40, 60, 70, 70, 70, 70, 70, 70, 70, 70, 70, 70, 70, 70, 70, 70, 70, 70, 70, 70, 70, 70, 70, 70];
const walkerWalk_kfu_sd = [10, 20, 40, 60, 60, 60, 60, 60, 60, 60, 60, 60, 60, 60, 60, 60, 60, 60, 60, 60, 60, 60, 60, 60, 60, 60];
const walkerWalk_vssm_sd = [10, 20, 60, 100, 120, 120, 110, 90, 80, 70, 60, 50, 50, 50, 50, 40, 40, 40, 40, 40, 40, 40, 40, 40, 40, 40];
const walkerWalk_mamba_sd = [10, 20, 40, 60, 80, 80, 80, 70, 70, 70, 70, 70, 70, 70, 70, 70, 70, 70, 70, 70, 70, 70, 70, 70, 70, 70];
const walkerWalk_gru_sd = [10, 20, 30, 30, 30, 30, 30, 30, 30, 30, 30, 30, 30, 30, 30, 30, 30, 30, 30, 30, 30, 30, 30, 30, 30, 30];
const walkerWalk_vtrans_sd = [10, 20, 30, 40, 50, 60, 70, 70, 70, 70, 70, 70, 70, 70, 70, 70, 70, 70, 70, 70, 70, 70, 70, 70, 70, 70];
const walkerWalk_mem_sd = [10, 20, 30, 30, 30, 30, 30, 30, 30, 30, 30, 30, 30, 30, 30, 30, 30, 30, 30, 30, 30, 30, 30, 30, 30, 30];
const walkerWalk_oracle_sd = [10, 60, 120, 80, 60, 50, 40, 30, 30, 30, 30, 40, 30, 30, 30, 30, 30, 30, 30, 30, 30, 30, 30, 30, 30, 30];

// tick labels
const ticksBalance = [500, 1000];
const ticksHalf = [0, 500];
const ticksThousand = [0, 1000];
const xTicks = [0, 0.5, 1.0];

const panels = [
  { title: 'cartpole-balance', y: [100, 1049], yTicks: ticksBalance,
    mean: [balance_kf, balance_kfu, balance_vssm, balance_mamba, balance_gru, balance_vtrans, balance_mem, balance_oracle],
    sd: [balance_kf_sd, balance_kfu_sd, balance_vssm_sd, balance_mamba_sd, balance_gru_sd, balance_vtrans_sd, balance_mem_sd, balance_oracle_sd] },
  { title: 'cartpole-swingup', y: [-40, 914], yTicks: ticksHalf,
    mean: [swingup_kf, swingup_kfu, swingup_vssm, swingup_mamba, swingup_gru, swingup_vtrans, swingup_mem, swingup_oracle],
    sd: [swingup_kf_sd, swingup_kfu_sd, swingup_vssm_sd, swingup_mamba_sd, swingup_gru_sd, swingup_vtrans_sd, swingup_mem_sd, swingup_oracle_sd] },
  { title: 'cheetah-run', y: [-32, 845], yTicks: ticksHalf,
    mean: [cheetah_kf, cheetah_kfu, cheetah_vssm, cheetah_mamba, cheetah_gru, cheetah_vtrans, cheetah_mem, cheetah_oracle],
    sd: [cheetah_kf_sd, cheetah_kfu_sd, cheetah_vssm_sd, cheetah_mamba_sd, cheetah_gru_sd, cheetah_vtrans_sd, cheetah_mem_sd, cheetah_oracle_sd] },
  { title: 'finger-spin', y: [-44, 1006], yTicks: ticksThousand,
    mean: [finger_kf, finger_kfu, finger_vssm, finger_mamba, finger_gru, finger_vtrans, finger_mem, finger_oracle],
    sd: [finger_kf_sd, finger_kfu_sd, finger_vssm_sd, finger_mamba_sd, finger_gru_sd, finger_vtrans_sd, finger_mem_sd, finger_oracle_sd] },
  { title: 'pendulum-swingup', y: [-35, 827], yTicks: ticksHalf,
    mean: [pendulum_kf, pendulum_kfu, pendulum_vssm, pendulum_mamba, pendulum_gru, pendulum_vtrans, pendulum_mem, pendulum_oracle],
    sd: [pendulum_kf_sd, pendulum_kfu_sd, pendulum_vssm_sd, pendulum_mamba_sd, pendulum_gru_sd, pendulum_vtrans_sd, pendulum_mem_sd, pendulum_oracle_sd] },
  { title: 'point-mass_easy', y: [-42, 956], yTicks: ticksHalf,
    mean: [pointmass_kf, pointmass_kfu, pointmass_vssm, pointmass_mamba, pointmass_gru, pointmass_vtrans, pointmass_mem, pointmass_oracle],
    sd: [pointmass_kf_sd, pointmass_kfu_sd, pointmass_vssm_sd, pointmass_mamba_sd, pointmass_gru_sd, pointmass_vtrans_sd, pointmass_mem_sd, pointmass_oracle_sd] },
  { title: 'reacher-easy', y: [-30, 1030], yTicks: ticksThousand,
    mean: [reacher_kf, reacher_kfu, reacher_vssm, reacher_mamba, reacher_gru, reacher_vtrans, reacher_mem, reacher_oracle],
    sd: [reacher_kf_sd, reacher_kfu_sd, reacher_vssm_sd, reacher_mamba_sd, reacher_gru_sd, reacher_vtrans_sd, reacher_mem_sd, reacher_oracle_sd] },
  { title: 'walker-run', y: [-20, 793], yTicks: ticksHalf,
    mean: [walkerRun_kf, walkerRun_kfu, walkerRun_vssm, walkerRun_mamba, walkerRun_gru, walkerRun_vtrans, walkerRun_mem, walkerRun_oracle],
    sd: [walkerRun_kf_sd, walkerRun_kfu_sd, walkerRun_vssm_sd, walkerRun_mamba_sd, walkerRun_gru_sd, walkerRun_vtrans_sd, walkerRun_mem_sd, walkerRun_oracle_sd] },
  { title: 'walker-walk', y: [-26, 1030], yTicks: ticksThousand,
    mean: [walkerWalk_kf, walkerWalk_kfu, walkerWalk_vssm, walkerWalk_mamba, walkerWalk_gru, walkerWalk_vtrans, walkerWalk_mem, walkerWalk_oracle],
    sd: [walkerWalk_kf_sd, walkerWalk_kfu_sd, walkerWalk_vssm_sd, walkerWalk_mamba_sd, walkerWalk_gru_sd, walkerWalk_vtrans_sd, walkerWalk_mem_sd, walkerWalk_oracle_sd] }
];

// plot boxes of the 3x3 grid
const colLeft = [127, 519, 910], colRight = [430, 821, 1212];
const rowTop = [51, 296, 539], rowBottom = [225, 469, 713];

const serif = "'Liberation Serif', 'Times New Roman', serif";
const FS = 28.5;
const gridColor = '#d6d6d6';

function rgba(hex, a) {
  const n = parseInt(hex.slice(1), 16);
  return `rgba(${n >> 16}, ${(n >> 8) & 255}, ${n & 255}, ${a})`;
}

// black box around the axes, panel title and axis titles
const frame = {
  id: 'frame',
  afterDraw(chart, args, opts) {
    const { ctx, chartArea: a } = chart;
    ctx.save();
    ctx.strokeStyle = '#000';
    ctx.lineWidth = 2.4;
    ctx.strokeRect(a.left, a.top, a.right - a.left, a.bottom - a.top);
    ctx.fillStyle = '#000';
    ctx.font = `${FS}px ${serif}`;
    ctx.letterSpacing = '1.5px';
    ctx.textAlign = 'center';
    ctx.textBaseline = 'alphabetic';
    ctx.fillText(opts.text, (a.left + a.right) / 2, a.top - 17);
    ctx.textBaseline = 'middle';
    if (opts.xTitle) ctx.fillText(opts.xTitle, (a.left + a.right) / 2, a.bottom + 74);
    if (opts.yTitle) {
      ctx.translate(a.left - 99, (a.top + a.bottom) / 2);
      ctx.rotate(-Math.PI / 2);
      ctx.fillText(opts.yTitle, 0, 0);
    }
    ctx.restore();
  }
};

const fig = document.getElementById('fig');

panels.forEach((p, k) => {
  const row = Math.floor(k / 3), col = k % 3;
  const L = colLeft[col], R = colRight[col], T = rowTop[row], B = rowBottom[row];
  const bottomRow = row === 2;
  const axisH = bottomRow ? 100 : 12;

  const cv = document.createElement('canvas');
  cv.width = R - L + 125;
  cv.height = B - T + 45 + axisH;
  cv.style.left = (L - 120) + 'px';
  cv.style.top = (T - 45) + 'px';
  fig.appendChild(cv);

  const datasets = [];
  p.mean.forEach((m, i) => {
    const sd = p.sd[i];
    const mAt = j => m[2 * j];
    datasets.push({ data: steps.map((x, j) => ({ x, y: mAt(j) + sd[j] })), fill: '+1',
      backgroundColor: rgba(colors[i], 0.2), borderColor: 'rgba(0,0,0,0)', borderWidth: 0, pointRadius: 0, order: 50 });
    datasets.push({ data: steps.map((x, j) => ({ x, y: mAt(j) - sd[j] })), fill: false,
      borderColor: 'rgba(0,0,0,0)', borderWidth: 0, pointRadius: 0, order: 50 });
  });
  p.mean.forEach((m, i) => {
    datasets.push({ label: methods[i], data: stepsFine.map((x, j) => ({ x, y: m[j] })), fill: false,
      borderColor: colors[i], borderWidth: 1.6, pointRadius: 0, order: 20 - i });
  });

  const font = { family: serif, size: FS };
  new Chart(cv, {
    type: 'line',
    data: { datasets },
    plugins: [frame],
    options: {
      responsive: false,
      animation: false,
      devicePixelRatio: 1,
      layout: { padding: { left: 0, top: 45, right: 5, bottom: 0 } },
      elements: { line: { tension: 0 } },
      plugins: {
        legend: { display: false },
        tooltip: { enabled: false },
        filler: { drawTime: 'beforeDatasetsDraw' },
        frame: { text: p.title, xTitle: bottomRow ? 'Env. steps (millions)' : '', yTitle: col === 0 ? 'Avg. Return' : '' }
      },
      scales: {
        x: {
          type: 'linear', min: -0.0527, max: 1.0623,
          afterBuildTicks: s => { s.ticks = xTicks.map(value => ({ value })); },
          afterFit: s => { s.height = axisH; },
          ticks: { display: bottomRow, font, color: '#000', padding: 10, maxRotation: 0, autoSkip: false,
            callback: v => v.toFixed(1) },
          grid: { color: gridColor, lineWidth: 2, tickColor: '#000', tickWidth: 2, tickLength: 10 },
          border: { display: false }
        },
        y: {
          min: p.y[0], max: p.y[1],
          afterBuildTicks: s => { s.ticks = p.yTicks.map(value => ({ value })); },
          afterFit: s => { s.width = 120; },
          ticks: { font, color: '#000', padding: 10, callback: v => String(v) },
          grid: { color: gridColor, lineWidth: 2, tickColor: '#000', tickWidth: 2, tickLength: 10 },
          border: { display: false }
        }
      }
    }
  });
});

// shared legend, two rows by four columns
const legendCols = [152, 400, 587, 881];
const legendRows = [838, 879];
methods.forEach((name, i) => {
  const c = Math.floor(i / 2), r = i % 2;
  const key = document.createElement('div');
  key.className = 'key';
  key.style.left = legendCols[c] + 'px';
  key.style.top = (legendRows[r] - 2) + 'px';
  key.style.width = '66px';
  key.style.background = colors[i];
  fig.appendChild(key);
  const lbl = document.createElement('div');
  lbl.className = 'lbl';
  lbl.textContent = name;
  lbl.style.left = (legendCols[c] + 87) + 'px';
  lbl.style.top = (legendRows[r] - 13) + 'px';
  fig.appendChild(lbl);
});
</script>
</body>
</html>
